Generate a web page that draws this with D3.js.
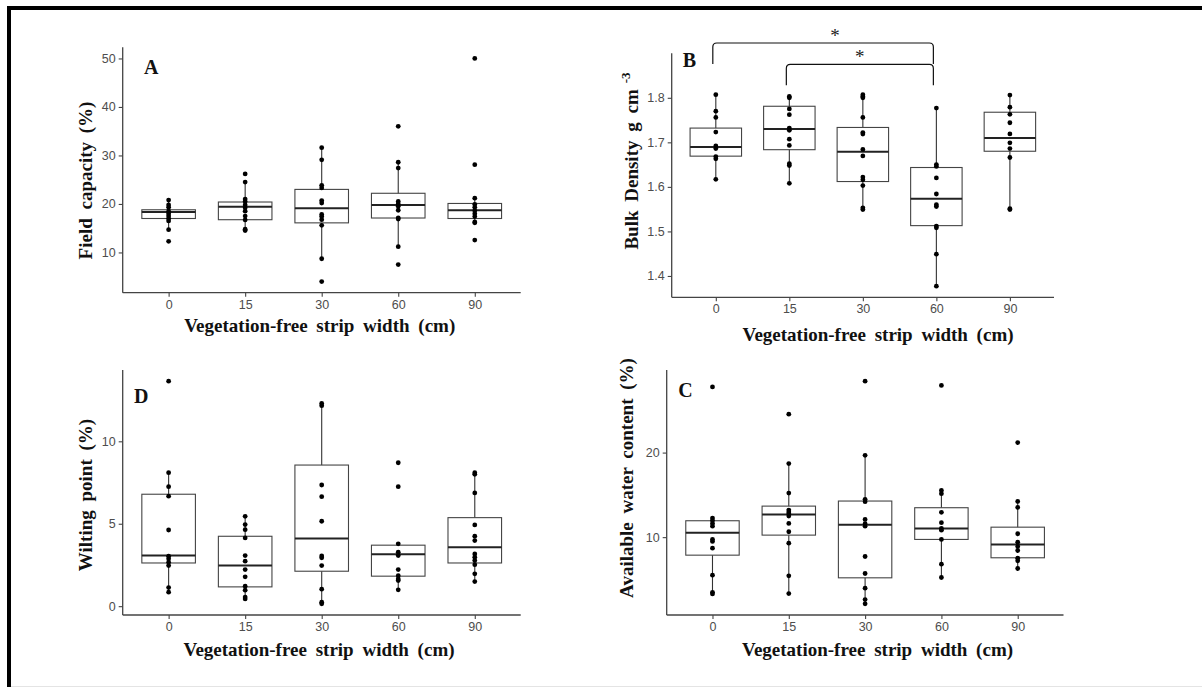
<!DOCTYPE html>
<html>
<head>
<meta charset="utf-8">
<script src="https://cdn.jsdelivr.net/npm/d3@7"></script>
<style>
  body { margin: 0; background: #fff; }
  svg { display: block; }
  .axis-title { font-family: "Liberation Serif", "Times New Roman", serif; font-size: 19px; font-weight: bold; fill: #111; word-spacing: 4px; }
  .panel-letter { font-family: "Liberation Serif", "Times New Roman", serif; font-size: 20px; font-weight: bold; fill: #111; }
</style>
</head>
<body>
<script>
// categories (vegetation-free strip width, cm)
var cats = ["0", "15", "30", "60", "90"];

// A - field capacity (%)
var fcPoints = [
  [20.8, 19.8, 19.3, 18.5, 18.0, 17.5, 17.0, 16.5, 14.7, 12.3],
  [26.2, 24.5, 21.0, 20.5, 19.8, 19.2, 18.5, 17.5, 16.7, 14.8, 14.5],
  [31.6, 29.1, 23.85, 23.3, 20.7, 20.2, 17.85, 17.4, 16.75, 15.6, 8.7, 4.0],
  [36.0, 28.6, 27.4, 20.5, 20.0, 19.5, 18.7, 17.1, 16.9, 11.2, 7.5],
  [50.0, 28.1, 21.2, 19.9, 19.3, 18.6, 18.0, 17.4, 16.3, 16.1, 12.55]
];
// [lower whisker, q1, median, q3, upper whisker]
var fcBox = [
  [14.7, 17.0, 18.35, 18.8, 20.8],
  [14.5, 16.75, 19.4, 20.4, 24.5],
  [8.7, 16.1, 19.1, 23.0, 31.6],
  [11.2, 17.1, 19.8, 22.2, 28.6],
  [16.1, 17.0, 18.7, 20.1, 21.2]
];

// B - bulk density (g cm-3)
var bdPoints = [
  [1.807, 1.770, 1.756, 1.723, 1.692, 1.686, 1.668, 1.663, 1.617],
  [1.803, 1.800, 1.775, 1.762, 1.732, 1.727, 1.707, 1.693, 1.652, 1.648, 1.608],
  [1.807, 1.803, 1.800, 1.756, 1.722, 1.7185, 1.684, 1.6695, 1.622, 1.616, 1.603, 1.553, 1.549],
  [1.777, 1.650, 1.646, 1.620, 1.584, 1.560, 1.556, 1.512, 1.508, 1.449, 1.377],
  [1.806, 1.779, 1.763, 1.744, 1.719, 1.699, 1.686, 1.666, 1.551, 1.549]
];
var bdBox = [
  [1.617, 1.669, 1.6895, 1.732, 1.807],
  [1.608, 1.6835, 1.730, 1.781, 1.803],
  [1.549, 1.612, 1.679, 1.7334, 1.807],
  [1.377, 1.513, 1.5736, 1.6435, 1.777],
  [1.549, 1.680, 1.710, 1.7676, 1.806]
];
// significance brackets for B: [from, to, level, drop]
var bdSig = [
  ["0", "60", 1.923, 0.047],
  ["15", "60", 1.875, 0.047]
];

// D - wilting point (%)
var wpPoints = [
  [13.65, 8.10, 7.25, 6.67, 4.62, 3.03, 2.87, 2.67, 2.46, 1.13, 0.85],
  [5.45, 4.95, 4.64, 4.14, 3.07, 2.73, 2.22, 1.78, 1.21, 0.97, 0.55, 0.44],
  [12.30, 12.16, 7.35, 6.64, 5.15, 3.05, 2.93, 2.46, 1.03, 0.24, 0.14],
  [8.70, 7.25, 3.78, 3.27, 3.07, 2.22, 1.85, 1.65, 1.55, 0.99],
  [8.10, 8.00, 6.87, 4.93, 4.24, 3.98, 3.17, 2.97, 2.77, 2.52, 1.96, 1.49]
];
var wpBox = [
  [0.85, 2.62, 3.07, 6.79, 8.10],
  [0.44, 1.17, 2.46, 4.24, 5.45],
  [0.14, 2.12, 4.10, 8.56, 12.30],
  [0.99, 1.82, 3.15, 3.70, 3.78],
  [1.49, 2.62, 3.58, 5.37, 8.10]
];

// C - available water content (%)
var awPoints = [
  [27.77, 12.25, 11.98, 11.62, 11.3, 9.73, 9.49, 8.70, 5.50, 3.48, 3.29],
  [24.54, 18.70, 15.21, 13.2, 12.96, 12.77, 12.49, 11.62, 10.64, 9.29, 5.43, 3.33],
  [28.45, 19.68, 14.47, 14.19, 12.1, 11.59, 11.3, 7.71, 5.70, 3.96, 2.62, 2.11],
  [27.94, 15.53, 15.14, 12.93, 11.71, 11.03, 10.83, 9.73, 6.80, 5.23],
  [21.18, 14.23, 13.52, 10.4, 9.41, 8.9, 8.42, 7.51, 7.2, 6.29]
];
var awBox = [
  [3.29, 7.87, 10.52, 11.94, 12.25],
  [3.33, 10.24, 12.69, 13.67, 18.70],
  [2.11, 5.19, 11.47, 14.27, 19.68],
  [5.23, 9.73, 11.03, 13.48, 15.53],
  [6.29, 7.56, 9.14, 11.18, 14.23]
];

var xTitle = "Vegetation-free strip width (cm)";

var svg = d3.select("body").append("svg")
  .attr("width", 1202)
  .attr("height", 687);

// frame round the figure
svg.append("rect").attr("x", 7).attr("y", 6).attr("width", 1202).attr("height", 4).attr("fill", "#000");
svg.append("rect").attr("x", 7).attr("y", 6).attr("width", 4).attr("height", 690).attr("fill", "#000");
svg.append("line").attr("x1", 11).attr("x2", 1202).attr("y1", 686.5).attr("y2", 686.5)
  .attr("stroke", "#e4e4e4").attr("stroke-width", 1);

// panel layout (pixel boxes)
var panels = [
  { letter: "A", points: fcPoints, box: fcBox, ticks: [10, 20, 30, 40, 50], fmt: d3.format("d"),
    left: 122.7, right: 520.7, top: 47.3, bottom: 292.7, extra: [],
    letterPos: [144, 74], yTitle: "Field capacity (%)", yTitlePos: [92, 180.5],
    xTitlePos: [319.7, 331.7] },
  { letter: "B", points: bdPoints, box: bdBox, ticks: [1.4, 1.5, 1.6, 1.7, 1.8], fmt: d3.format(".1f"),
    left: 671.7, right: 1054, top: 53.3, bottom: 297.3, extra: [1.875],
    letterPos: [682.7, 66.7], yTitle: "Bulk Density g cm", sup: "-3", yTitlePos: [638, 161],
    xTitlePos: [878, 341], sig: bdSig },
  { letter: "D", points: wpPoints, box: wpBox, ticks: [0, 5, 10], fmt: d3.format("d"),
    left: 122.7, right: 520.7, top: 370, bottom: 615, extra: [],
    letterPos: [134, 402.7], yTitle: "Wilting point (%)", yTitlePos: [91.7, 495],
    xTitlePos: [319, 655.7] },
  { letter: "C", points: awPoints, box: awBox, ticks: [10, 20], fmt: d3.format("d"),
    left: 666.7, right: 1063.5, top: 370, bottom: 615, extra: [],
    letterPos: [678.3, 396.7], yTitle: "Available water content (%)", yTitlePos: [633.3, 478],
    xTitlePos: [877.5, 655.7] }
];

panels.forEach(function(p) {
  var g = svg.append("g");

  // ggplot style 5% expansion of the data range
  var all = d3.merge(p.points).concat(p.extra);
  var ext = d3.extent(all);
  var pad = (ext[1] - ext[0]) * 0.05;

  var x = d3.scalePoint()
    .domain(cats)
    .range([p.left, p.right])
    .padding(0.6);

  var y = d3.scaleLinear()
    .domain([ext[0] - pad, ext[1] + pad])
    .range([p.bottom, p.top]);

  var bw = x.step() * 0.7;

  // axes
  var yAxis = d3.axisLeft(y).tickValues(p.ticks).tickFormat(p.fmt).tickSizeOuter(0).tickSize(4).tickPadding(3);
  var xAxis = d3.axisBottom(x).tickSizeOuter(0).tickSize(4).tickPadding(3);

  var gy = g.append("g").attr("transform", "translate(" + p.left + ",0)").call(yAxis);
  var gx = g.append("g").attr("transform", "translate(0," + p.bottom + ")").call(xAxis);

  [gx, gy].forEach(function(ax) {
    ax.attr("font-family", "Liberation Sans, Arial, sans-serif").attr("font-size", 12.5);
    ax.select(".domain").attr("stroke", "#444").attr("stroke-width", 1.3);
    ax.selectAll(".tick line").attr("stroke", "#444").attr("stroke-width", 1.1);
    ax.selectAll(".tick text").attr("fill", "#4d4d4d");
  });
  gy.select(".domain").attr("d", "M0," + p.top + "V" + p.bottom);
  gx.select(".domain").attr("d", "M" + p.left + ",0H" + p.right);

  // whiskers
  g.selectAll(".whisker")
    .data(p.box)
    .enter()
    .append("line")
    .attr("x1", function(d, i) { return x(cats[i]); })
    .attr("x2", function(d, i) { return x(cats[i]); })
    .attr("y1", function(d) { return y(d[0]); })
    .attr("y2", function(d) { return y(d[4]); })
    .attr("stroke", "#333")
    .attr("stroke-width", 1.1);

  // boxes
  g.selectAll(".box")
    .data(p.box)
    .enter()
    .append("rect")
    .attr("x", function(d, i) { return x(cats[i]) - bw / 2; })
    .attr("width", bw)
    .attr("y", function(d) { return y(d[3]); })
    .attr("height", function(d) { return y(d[1]) - y(d[3]); })
    .attr("fill", "#fff")
    .attr("stroke", "#444")
    .attr("stroke-width", 1.1);

  // medians
  g.selectAll(".median")
    .data(p.box)
    .enter()
    .append("line")
    .attr("x1", function(d, i) { return x(cats[i]) - bw / 2; })
    .attr("x2", function(d, i) { return x(cats[i]) + bw / 2; })
    .attr("y1", function(d) { return y(d[2]); })
    .attr("y2", function(d) { return y(d[2]); })
    .attr("stroke", "#222")
    .attr("stroke-width", 2);

  // points
  var pts = [];
  p.points.forEach(function(arr, i) {
    arr.forEach(function(v) { pts.push({ c: cats[i], v: v }); });
  });
  g.selectAll(".pt")
    .data(pts)
    .enter()
    .append("circle")
    .attr("cx", function(d) { return x(d.c); })
    .attr("cy", function(d) { return y(d.v); })
    .attr("r", 2.4)
    .attr("fill", "#000");

  // significance brackets
  if (p.sig) {
    p.sig.forEach(function(s, k) {
      var x1 = x(s[0]) - 3, x2 = x(s[1]) - 3;
      var yt = y(s[2]), yb = y(s[2] - s[3]);
      g.append("path")
        .attr("d", "M" + x1 + "," + yb + "V" + (yt + 4) + "Q" + x1 + "," + yt + " " + (x1 + 4) + "," + yt +
          "H" + (x2 - 4) + "Q" + x2 + "," + yt + " " + x2 + "," + (yt + 4) + "V" + yb)
        .attr("fill", "none")
        .attr("stroke", "#111")
        .attr("stroke-width", 1.2);
      g.append("text")
        .attr("x", (x1 + x2) / 2 + (k === 0 ? 12 : 0))
        .attr("y", yt - 1)
        .attr("text-anchor", "middle")
        .attr("font-family", "Liberation Serif, serif")
        .attr("font-size", 19)
        .attr("fill", "#222")
        .text("*");
    });
  }

  // panel letter
  g.append("text")
    .attr("class", "panel-letter")
    .attr("x", p.letterPos[0])
    .attr("y", p.letterPos[1])
    .text(p.letter);

  // y title
  var yt = g.append("text")
    .attr("class", "axis-title")
    .attr("text-anchor", "middle")
    .attr("transform", "translate(" + p.yTitlePos[0] + "," + p.yTitlePos[1] + ") rotate(-90)")
    .text(p.yTitle);
  if (p.sup) {
    yt.append("tspan").attr("dx", 6).attr("dy", -8).attr("font-size", 13).text(p.sup);
  }

  // x title
  g.append("text")
    .attr("class", "axis-title")
    .attr("text-anchor", "middle")
    .attr("x", p.xTitlePos[0])
    .attr("y", p.xTitlePos[1])
    .text(xTitle);
});
</script>
</body>
</html>
